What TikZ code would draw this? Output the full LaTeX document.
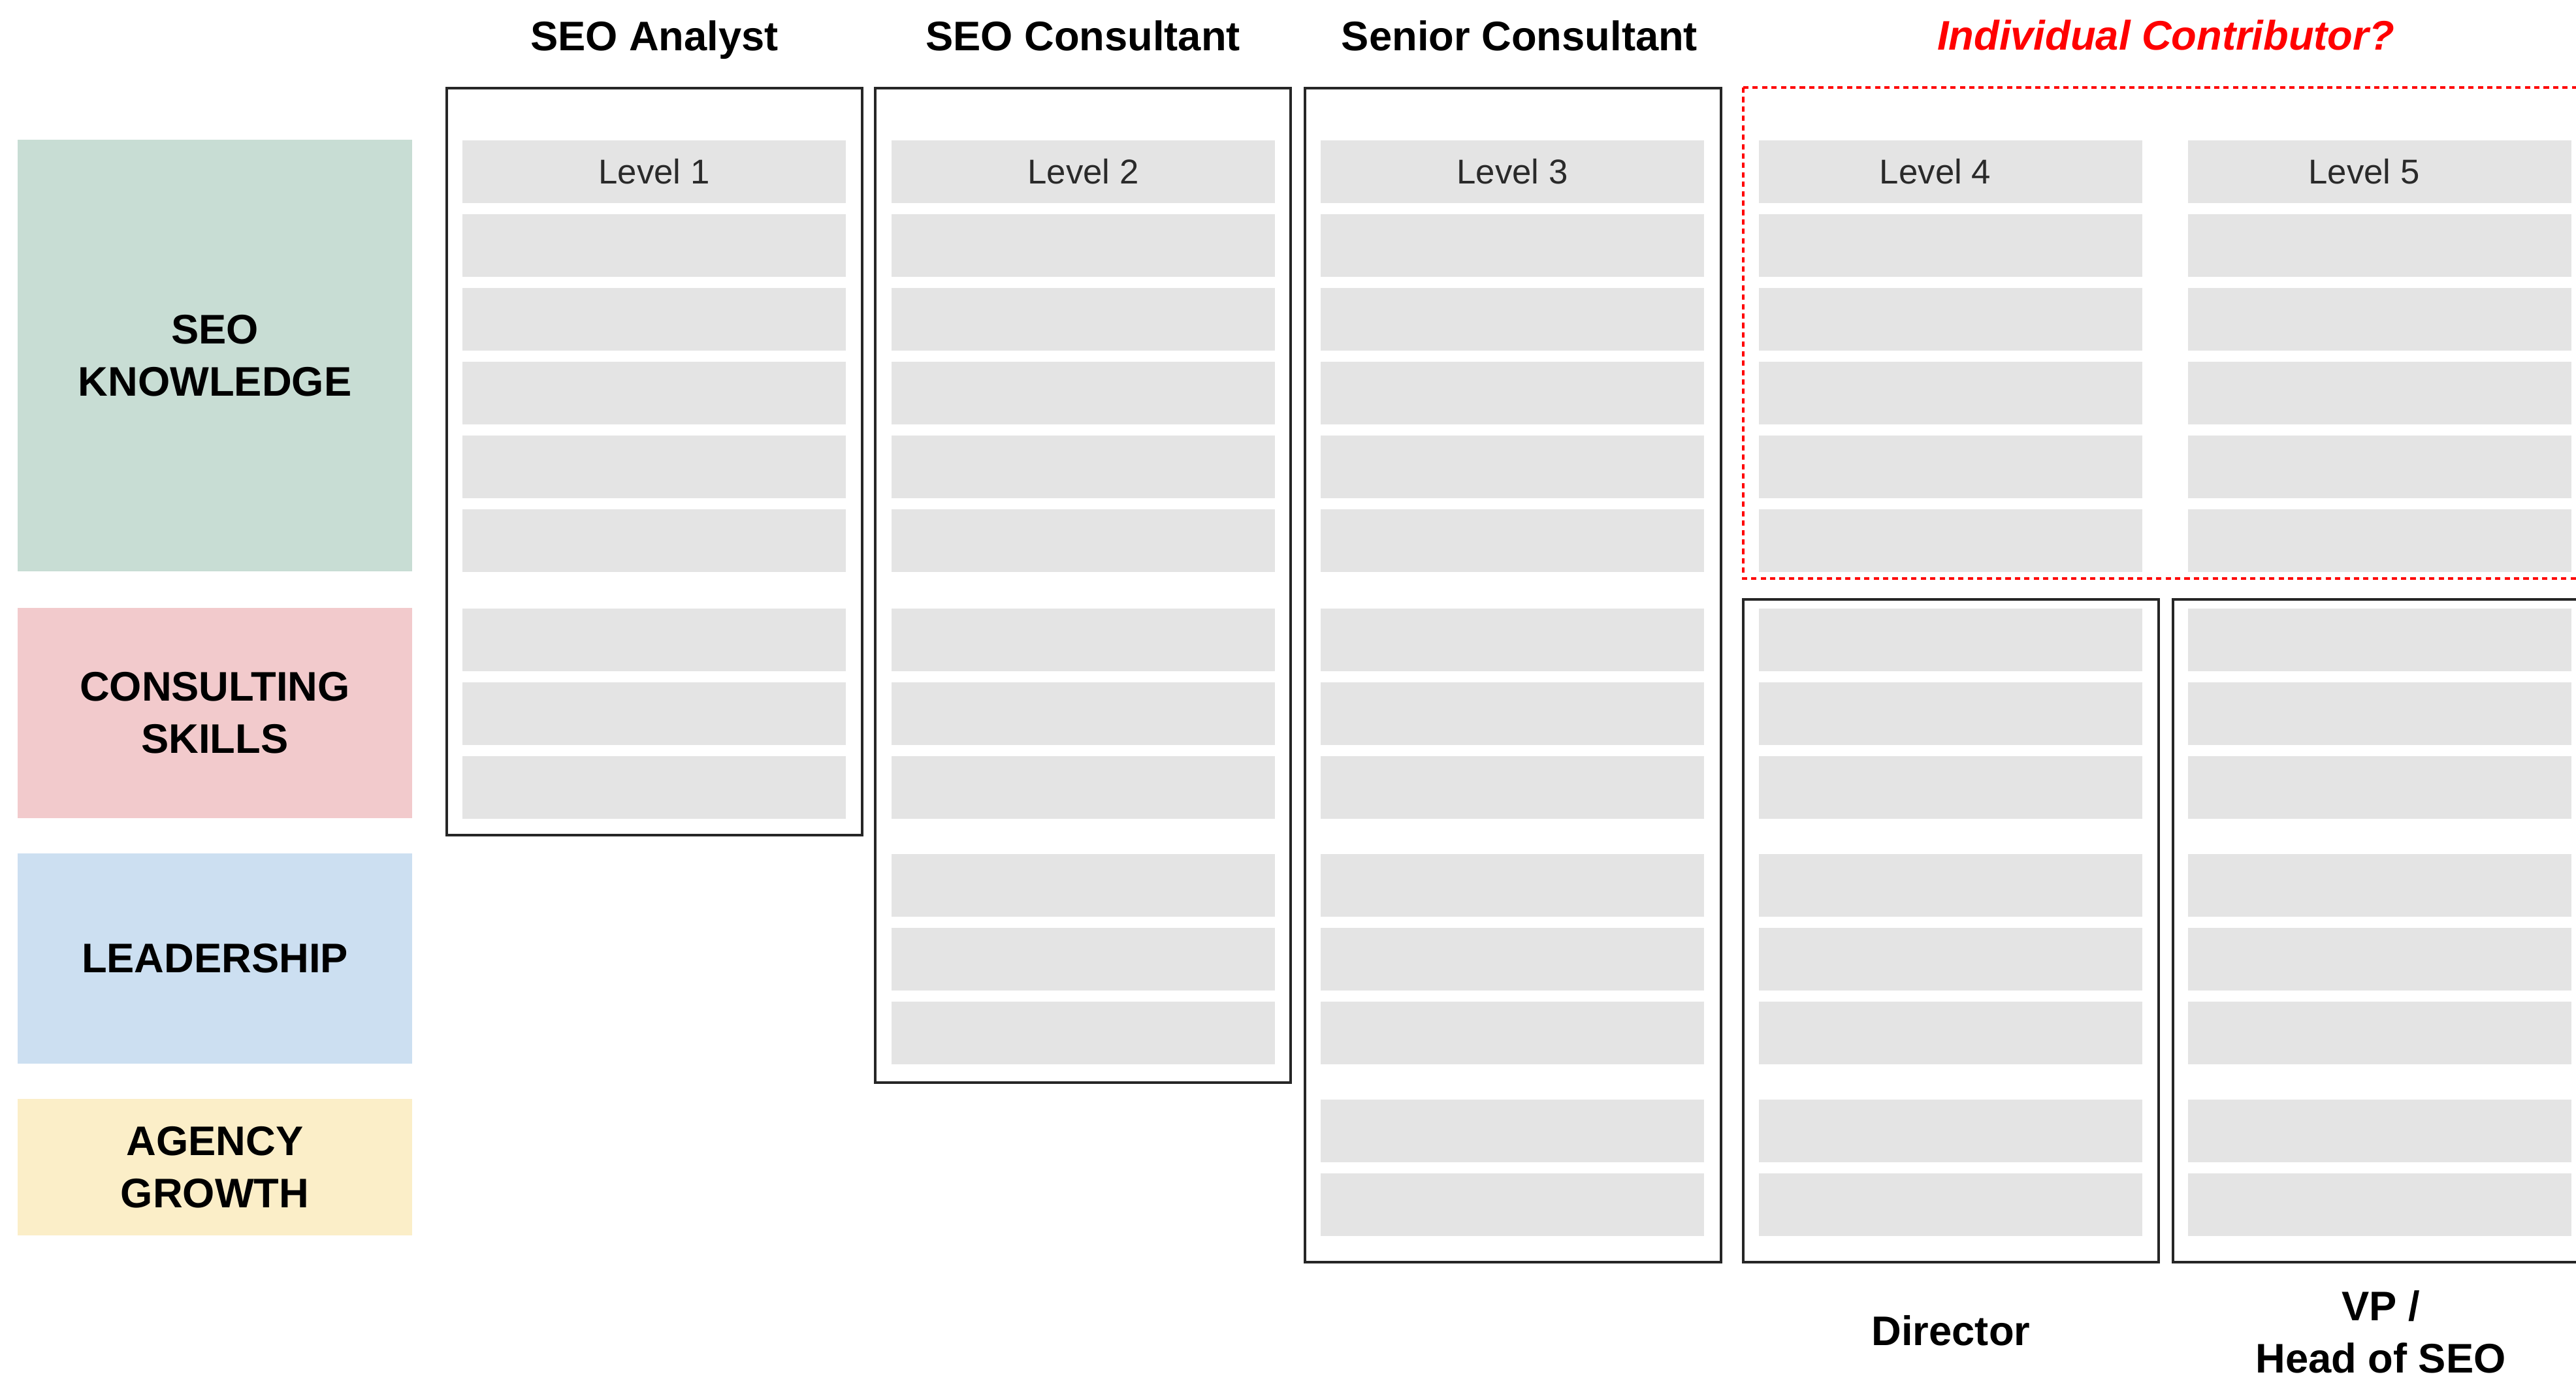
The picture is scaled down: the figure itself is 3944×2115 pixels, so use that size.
\documentclass[tikz,border=0pt]{standalone}
\usepackage{fontspec}
\setmainfont{Liberation Sans}
\usetikzlibrary{positioning}

\definecolor{seogreen}{HTML}{C8DDD4}
\definecolor{consultpink}{HTML}{F2CACC}
\definecolor{leadblue}{HTML}{CCDFF1}
\definecolor{agencyyellow}{HTML}{FBEEC8}
\definecolor{cellgray}{HTML}{E4E4E4}
\definecolor{levelgray}{HTML}{2A2A2A}
\definecolor{icred}{HTML}{FF0000}

\begin{document}
\begin{tikzpicture}[
  x=0.01cm, y=-0.01cm,
  cat/.style = {minimum width=6.04cm, align=center, inner sep=0pt, font=\bfseries\fontsize{18}{22.8}\selectfont},
  title/.style = {inner sep=0pt, align=center, font=\bfseries\fontsize{18}{22.8}\selectfont},
  column/.style = {draw=black!85, line width=1.2pt, minimum width=6.36cm, anchor=north, inner sep=0pt},
  cell/.style = {fill=cellgray, minimum width=5.87cm, minimum height=0.96cm, anchor=north, inner sep=0pt},
  level/.style = {inner sep=0pt, text=levelgray, font=\fontsize{15}{18}\selectfont},
  ic/.style = {draw=icred, line width=1.1pt, dash pattern=on 2.3pt off 1.8pt},
  node distance=0.5cm
]
  \clip (0,0) rectangle (3944,2115);

  % Skill categories
  \node[cat, fill=seogreen, minimum height=6.61cm] (knowledge) at (329,544.5) {SEO\\KNOWLEDGE};
  \node[cat, fill=consultpink, minimum height=3.22cm] (consulting) at (329,1092) {CONSULTING\\SKILLS};
  \node[cat, fill=leadblue, minimum height=3.22cm] (leadership) at (329,1468) {LEADERSHIP};
  \node[cat, fill=agencyyellow, minimum height=2.09cm] (agency) at (329,1787.5) {AGENCY\\GROWTH};

  % Role columns
  \node[column, minimum height=11.43cm] (analyst) at (1002,133) {};
  \node[column, minimum height=15.22cm] (consultant) at (1658,133) {};
  \node[column, minimum height=17.97cm] (senior) at (2316.5,133) {};
  \node[column, minimum height=10.14cm] (director) at (2987,916) {};
  \node[column, minimum height=10.14cm] (vp) at (3645,916) {};

  % Individual contributor track
  \draw[ic] (2669,134) rectangle (3990,886);

  % Level cells
  \foreach \lvl/\cx/\last/\dx in {1/1001.5/9/0, 2/1658.5/12/0, 3/2315.5/14/0, 4/2986.5/14/-23.5, 5/3643.5/14/-24}
  {
    \foreach \ytop [count=\rowno] in {214,327,440,553,666,779,931,1044,1157,1307,1420,1533,1683,1796}
    {
      \ifnum\rowno>\last\relax\else
        \node[cell] (cell-\lvl-\rowno) at (\cx,\ytop) {};
      \fi
    }
    \node[level] (level-\lvl) at ([xshift=\dx*0.01cm]cell-\lvl-1.center) {Level \lvl};
  }

  % Titles
  \node[title, anchor=base] (analyst-title) at ([yshift=0.55cm]analyst.north) {SEO Analyst};
  \node[title, anchor=base] (consultant-title) at ([yshift=0.55cm]consultant.north) {SEO Consultant};
  \node[title, anchor=base] (senior-title) at ([xshift=0.1cm, yshift=0.55cm]senior.north) {Senior Consultant};
  \node[title, anchor=base, text=icred, font=\bfseries\itshape\fontsize{18}{22.8}\selectfont] (ic-title) at (3316,77) {Individual Contributor?};
  \node[title, below=0.79cm of director] (director-title) {Director};
  \node[title, below=0.41cm of vp] (vp-title) {VP /\\Head of SEO};

\end{tikzpicture}
\end{document}
